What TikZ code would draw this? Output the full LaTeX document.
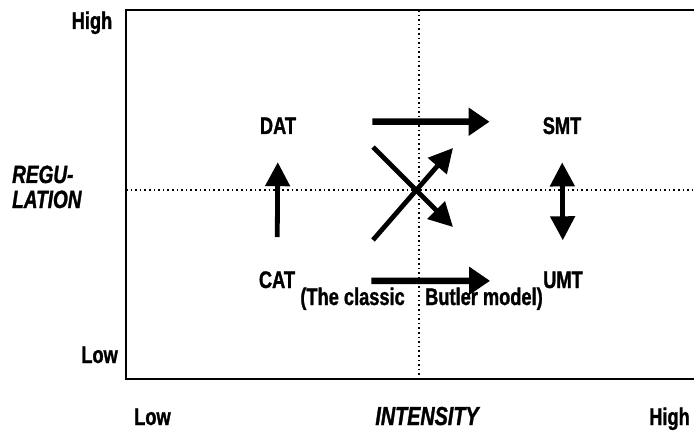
\documentclass[tikz,border=0pt]{standalone}
\usepackage{fontspec}
\setmainfont{Liberation Sans}[FakeStretch=0.76,FakeBold=1.2]
\usetikzlibrary{arrows.meta}

\begin{document}
\begin{tikzpicture}[x=1pt,y=-1pt,
    tag/.style={inner sep=0pt,anchor=base,font=\fontsize{24}{26}\selectfont\bfseries},
    axisname/.style={tag,font=\fontsize{25}{26}\selectfont\bfseries\itshape},
    frame/.style={line width=1.6pt},
    midline/.style={line width=1.3pt,dash pattern=on 1.6pt off 3pt},
    fat/.style={line width=6.5pt,-{Triangle[length=21pt,width=27pt]}},
    move/.style={line width=4.8pt,-{Triangle[length=24pt,width=24pt]}}]
  \useasboundingbox (0,0) rectangle (694,433);

  % box and the two dotted midlines
  \draw[frame] (694,10) -- (126,10) -- (126,379) -- (694,379);
  \draw[midline] (419,10) -- (419,379);
  \draw[midline] (126,190) -- (694,190);

  % axis texts
  \node[tag] (yhigh) at (92,29) {High};
  \node[tag,anchor=base east] (ylow) at (118,363) {Low};
  \node[axisname,anchor=base west] (reg1) at (12,183) {REGU-};
  \node[axisname,anchor=base west] (reg2) at (12,208) {LATION};
  \node[tag,anchor=base west] (xlow) at (134,425) {Low};
  \node[axisname,font=\fontsize{26}{26}\selectfont\bfseries\itshape] (inten) at (427,425) {INTENSITY};
  \node[tag,anchor=base east] (xhigh) at (690,425) {High};

  % the four types
  \node[tag] (DAT) at (278,134) {DAT};
  \node[tag] (SMT) at (562,134) {SMT};
  \node[tag] (CAT) at (277,288) {CAT};
  \node[tag] (UMT) at (563,288) {UMT};

  \node[tag,anchor=base east] (cl1) at (405,305) {(The classic};
  \node[tag,anchor=base west] (cl2) at (425,305) {Butler model)};

  % moves between types
  \draw[fat,shorten <=76pt,shorten >=53pt] ([yshift=4pt]DAT.east) -- ([yshift=4pt]SMT.west);
  \draw[fat,shorten <=76pt,shorten >=53pt] ([yshift=-1pt]CAT.east) -- ([yshift=-1pt]UMT.west);
  \draw[move,shorten <=34pt,shorten >=28pt] (CAT.north) -- (DAT.south);
  \draw[move,{Triangle[length=24pt,width=24pt]}-{Triangle[length=24pt,width=24pt]},
        shorten <=28pt,shorten >=31pt] (SMT.south) -- (UMT.north);

  \coordinate (d1) at (373,147);
  \coordinate (d2) at (453,227);
  \coordinate (c1) at (373,240);
  \coordinate (c2) at (453,148);
  \draw[move] (d1) -- (d2);
  \draw[move] (c1) -- (c2);
\end{tikzpicture}
\end{document}
